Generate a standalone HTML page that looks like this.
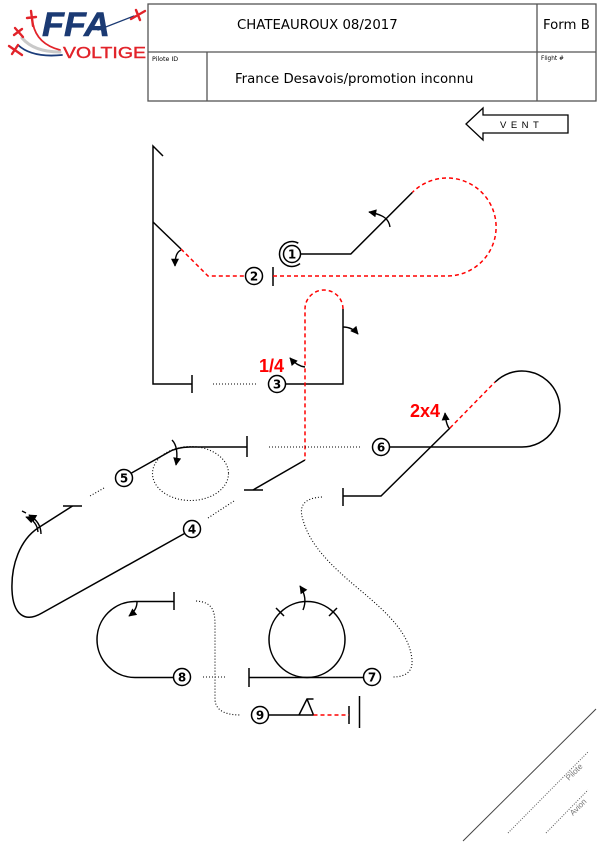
<!DOCTYPE html>
<html>
<head>
<meta charset="utf-8">
<style>
html,body{margin:0;padding:0;background:#fff;}
body{width:600px;height:847px;overflow:hidden;}
svg{display:block;}
</style>
</head>
<body>
<svg width="600" height="847" viewBox="0 0 600 847" xmlns="http://www.w3.org/2000/svg">
<defs>
<marker id="ah" viewBox="0 0 10 10" refX="9" refY="5" markerWidth="10" markerHeight="8" markerUnits="userSpaceOnUse" orient="auto">
<path d="M0,0 L10,5 L0,10 z" fill="#000"/>
</marker>
</defs>

<!-- LOGO -->
<g fill="none" stroke-linecap="round">
<path d="M33,24 Q37,44 60,50" stroke="#e2232a" stroke-width="1.8"/>
<path d="M22,38 Q34,52 60,52" stroke="#c9c9c9" stroke-width="3"/>
<path d="M18,45 Q32,58 62,55" stroke="#1b3c7a" stroke-width="1.8"/>
<line x1="98" y1="30" x2="134" y2="16" stroke="#1b3a73" stroke-width="1.3"/>
<g stroke="#e2232a" stroke-width="2.4">
<path d="M131,19 L145,11 M136,10 L140,20"/>
<path d="M31,11 L33,26 M27,18 L36,17"/>
<path d="M15,28 L23,37 M14,35 L22,29"/>
<path d="M9,46 L22,55 M12,54 L18,45"/>
</g>
</g>
<text x="42" y="36" font-family="Liberation Sans, sans-serif" font-weight="bold" font-style="italic" font-size="34" fill="#1b3a73" stroke="#1b3a73" stroke-width="0.6" textLength="68" lengthAdjust="spacingAndGlyphs">FFA</text>
<text x="63" y="58" font-family="Liberation Sans, sans-serif" font-size="15.5" fill="#e2232a" stroke="#e2232a" stroke-width="0.4" textLength="83" lengthAdjust="spacingAndGlyphs">VOLTIGE</text>

<!-- HEADER TABLE -->
<g stroke="#555" stroke-width="1.3" fill="none">
<rect x="148" y="4" width="448" height="97"/>
<line x1="148" y1="52" x2="596" y2="52"/>
<line x1="537" y1="4" x2="537" y2="101"/>
<line x1="207" y1="52" x2="207" y2="101"/>
</g>
<g font-family="DejaVu Sans, Liberation Sans, sans-serif" fill="#000">
<text x="237" y="29" font-size="13.3">CHATEAUROUX 08/2017</text>
<text x="543" y="29" font-size="13.3">Form B</text>
<text x="235" y="83" font-size="13.3">France Desavois/promotion inconnu</text>
<text x="152" y="61" font-size="6.3">Pilote ID</text>
<text x="541" y="60" font-size="5.8">Flight #</text>
</g>

<!-- VENT ARROW -->
<polygon points="466,124 483,108 483,115 568,115 568,133 483,133 483,140" fill="#fff" stroke="#000" stroke-width="1.3"/>
<text x="500" y="128" font-family="Liberation Sans, sans-serif" font-size="9.5" letter-spacing="4.5" fill="#000">VENT</text>

<!-- FIGURES -->
<g fill="none" stroke="#000" stroke-width="1.5">
<path d="M192,384 L153,384 L153,146 L163,156"/>
<path d="M192,375 L192,393"/>
<path d="M153,222 L181,249"/>
<path d="M273,267 L273,286"/>
<path d="M412.4,192.4 L350.8,254 L300.5,254"/>
<path d="M298.3,243.2 A12.5,12.5 0 1 0 300,263.6"/>
<path d="M285.5,384 L343,384 L343,309"/>
<path d="M305,460 L253,490"/>
<path d="M244,490 L263,490"/>
<path d="M343,488 L343,506"/>
<path d="M343,496 L381,496 L450,428"/>
<path d="M495.1,382.1 A38,38 0 1 1 522,447 L389.5,447"/>
<path d="M131.5,473 L168,452.5 Q177,447 190,447 L247,447"/>
<path d="M247,436 L247,457"/>
<path d="M184.5,533.5 L42,613 C25,623 13,615 12,590 C11,565 20,540 38,528 L72.5,506"/>
<path d="M63,506 L82,506"/>
<path d="M174,592 L174,610"/>
<path d="M174,601.5 L135,601.5 A38,38 0 0 0 135,677.5 L173.5,677.5"/>
<path d="M249,668 L249,687"/>
<path d="M249,677.5 L363.5,677.5"/>
<circle cx="307" cy="639.5" r="38"/>
<path d="M276,608 L284,616 M329,616 L337,608"/>
<path d="M268.5,715 L313.5,715"/>
<path d="M299,715 L307,699 L313.5,699 M307,699 L313.5,715"/>
<path d="M349,706 L349,724"/>
<path d="M359.5,696 L359.5,728"/>
</g>

<!-- red dashed -->
<g fill="none" stroke="#f00" stroke-width="1.5" stroke-dasharray="4,3">
<path d="M181,249 L208,276 L246,276"/>
<path d="M273,276 L447,276 A49,49 0 1 0 412.4,192.4"/>
<path d="M343,309 A19,19 0 0 0 305,309 L305,460"/>
<path d="M450,428 L495,382"/>
<path d="M313.5,715 L349,715"/>
</g>

<!-- dotted -->
<g fill="none" stroke="#000" stroke-width="1.1" stroke-dasharray="1,2">
<path d="M213,384 L257,384"/>
<path d="M269,447 L362,447"/>
<ellipse cx="190.5" cy="473.5" rx="38" ry="27"/>
<path d="M104,488 L90,496"/>
<path d="M208,518 L234,501"/>
<path d="M203,677 L227,677"/>
<path d="M196,601 C212,602 215,610 215,625 L215,700 C216,712 228,715 241,715"/>
<path d="M322,497 C305,498 298,505 303,520 C310,545 330,565 360,590 C390,615 410,635 412,660 C413,672 405,677 393,677"/>
</g>

<!-- roll arrows -->
<g fill="none" stroke="#000" stroke-width="1.4" marker-end="url(#ah)">
<path d="M181,250 C177,252 175,256 175,266"/>
<path d="M390,227 C389,220 385,215 369,212"/>
<path d="M343,327 Q352,327 358,334"/>
<path d="M305,367 Q297,366 290,358"/>
<path d="M449,428 Q446,424 445,413"/>
<path d="M172,440 Q179,447 176,465"/>
<path d="M41,534 Q41,522 29,515"/>
<path d="M38,532 Q37,521 26,517"/>
<path d="M137,602 Q137,610 129,616"/>
<path d="M303,610 Q308,598 300,586"/>
</g>
<path d="M22,511 L26,513" stroke="#000" stroke-width="1.4"/>

<!-- number circles -->
<g fill="#fff" stroke="#000" stroke-width="1.5">
<circle cx="292" cy="254" r="8.5"/>
<circle cx="254" cy="276" r="8.5"/>
<circle cx="277" cy="384" r="8.5"/>
<circle cx="192" cy="529" r="8.5"/>
<circle cx="124" cy="478" r="8.5"/>
<circle cx="381" cy="447" r="8.5"/>
<circle cx="372" cy="677" r="8.5"/>
<circle cx="182" cy="677" r="8.5"/>
<circle cx="260" cy="715" r="8.5"/>
</g>
<g font-family="DejaVu Sans, Liberation Sans, sans-serif" font-weight="bold" font-size="12" fill="#000" text-anchor="middle">
<text x="292" y="258.5">1</text>
<text x="254" y="280.5">2</text>
<text x="277" y="388.5">3</text>
<text x="192" y="533.5">4</text>
<text x="124" y="482.5">5</text>
<text x="381" y="451.5">6</text>
<text x="372" y="681.5">7</text>
<text x="182" y="681.5">8</text>
<text x="260" y="719.5">9</text>
</g>

<!-- red labels -->
<g font-family="Liberation Sans, sans-serif" font-weight="bold" font-size="18" fill="#f00">
<text x="259" y="372">1/4</text>
<text x="410" y="417">2x4</text>
</g>

<!-- corner lines -->
<line x1="463" y1="841" x2="596" y2="709" stroke="#444" stroke-width="1"/>
<g stroke="#555" stroke-width="1" stroke-dasharray="1,1.5">
<line x1="508" y1="833" x2="588" y2="752"/>
<line x1="546" y1="833" x2="588" y2="790"/>
</g>
<g font-family="Liberation Sans, sans-serif" font-size="8" fill="#777">
<text transform="translate(569,781) rotate(-45)">Pilote</text>
<text transform="translate(573,816) rotate(-45)">Avion</text>
</g>
</svg>
</body>
</html>
